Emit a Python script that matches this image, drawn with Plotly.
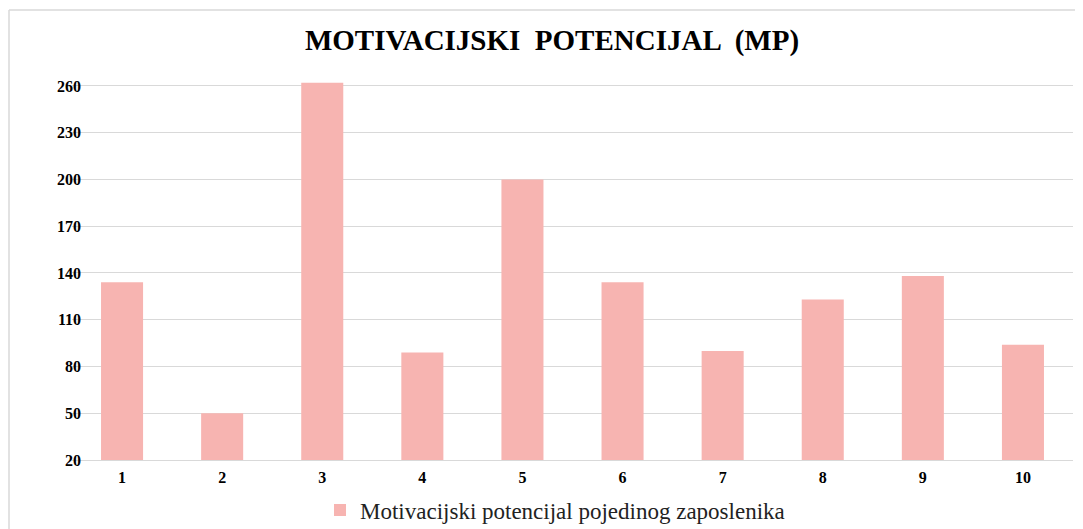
import plotly.graph_objects as go

categories = ["1", "2", "3", "4", "5", "6", "7", "8", "9", "10"]
values = [134, 50, 262, 89, 200, 134, 90, 123, 138, 94]
series_name = "Motivacijski potencijal pojedinog zaposlenika"
title_text = "MOTIVACIJSKI  POTENCIJAL  (MP)"
y_ticks = [20, 50, 80, 110, 140, 170, 200, 230, 260]

W, H = 1083, 529
OFF = 8  # page body offset
Y_MIN, Y_MAX = 20, 262.5
PX_PER_UNIT = (460 - 86) / 240.0
ML = 72 - OFF
MT = 86 - (Y_MAX - 260) * PX_PER_UNIT - OFF
PR, PB = 1073 - OFF, 460 - OFF
MR, MB = W - PR, H - PB
pw = W - ML - MR
ph = H - MT - MB

fig = go.Figure()
fig.add_trace(go.Bar(
    x=categories, y=values, name=series_name,
    marker=dict(color="#f7b4b1", line=dict(width=0)),
    showlegend=True,
))

font_family = "'Liberation Serif', 'Times New Roman', serif"

border_top = 1 + (MT - 10 + OFF) / ph
border_left = (9 - OFF - ML) / pw

fig.update_layout(
    width=W, height=H,
    margin=dict(l=ML, r=MR, t=MT, b=MB, autoexpand=False),
    paper_bgcolor="white", plot_bgcolor="white",
    bargap=0.58,
    title=dict(text="<b>" + title_text + "</b>", x=(552 - OFF) / W, xanchor="center",
               xref="container", y=1 - (40 - OFF) / H, yanchor="middle", yref="container",
               font=dict(family=font_family, size=29, color="black")),
    font=dict(family=font_family, color="black"),
    legend=dict(orientation="h", x=0.5 + (555 - OFF - (ML + pw / 2)) / pw, xanchor="center",
                y=-(510 - OFF - (MT + ph)) / ph, yanchor="middle",
                font=dict(family=font_family, size=23, color="#222222"),
                itemwidth=30),
    xaxis=dict(type="category", showgrid=False, showline=True, linecolor="#d9d9d9",
               linewidth=1, ticks="", tickfont=dict(family=font_family, size=16, color="black", weight="bold"),
               ticklabelstandoff=3),
    yaxis=dict(range=[Y_MIN, Y_MAX], tickvals=y_ticks, showgrid=True, gridcolor="#d9d9d9",
               gridwidth=1, zeroline=False, showline=False, ticks="",
               tickfont=dict(family=font_family, size=16, color="black", weight="bold"),
               ticklabelstandoff=-10),
    shapes=[
        dict(type="line", xref="paper", yref="paper",
             x0=border_left, x1=border_left, y0=-(H - MT - ph) / ph, y1=border_top,
             line=dict(color="#d9d9d9", width=1.5)),
        dict(type="line", xref="paper", yref="paper",
             x0=border_left, x1=(W - ML) / pw, y0=border_top, y1=border_top,
             line=dict(color="#d9d9d9", width=1.5)),
    ],
)

fig.write_html("out.html")
